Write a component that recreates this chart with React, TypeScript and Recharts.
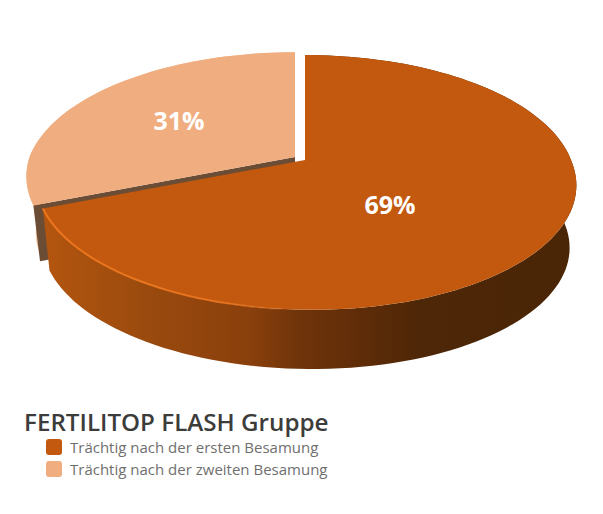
import React from "react";
import { PieChart, Pie } from "recharts";

const categories = ["Trächtig nach der ersten Besamung", "Trächtig nach der zweiten Besamung"];
const shares = [69, 31];
const sliceColors = ["#c2590e", "#f0ae80"];

// back slice has to be painted first, so the pie starts at its far edge
const backShare = shares[1];
const START_ANGLE = 90 + (backShare / 100) * 360;

const pieData = [
  { name: categories[1], value: shares[1], fill: sliceColors[1] },
  { name: categories[0], value: shares[0], fill: sliceColors[0] },
];

// tilted disc: perspective factor, vertical squash of the top face, slight lean of the near half
const PERSPECTIVE = 0.176;
const SQUASH = 0.464;
const LEAN = 6;
const BOTTOM_SCALE = 0.975;

const CX = 305;
const CY = 160;
const RADIUS = 266;

type SliceLook = { dx: number; dy: number; scale: number; depth: number; wallScale: number };
const looks: Record<string, SliceLook> = {
  [categories[0]]: { dx: 0, dy: 0, scale: 1, depth: 63, wallScale: BOTTOM_SCALE },
  [categories[1]]: { dx: -10, dy: -3, scale: 0.998, depth: 57, wallScale: 0.965 },
};

const labelSpots: Record<string, [number, number]> = {
  [categories[0]]: [390, 204],
  [categories[1]]: [179, 120],
};

function project(cx: number, cy: number, r: number, deg: number, k = 1) {
  const a = (deg * Math.PI) / 180;
  const X = Math.cos(a);
  const Y = -Math.sin(a);
  const s = 1 / (1 - PERSPECTIVE * Y);
  return [cx + r * k * X * s + LEAN * Math.max(0, Y * s), cy + r * SQUASH * k * Y * s];
}

function arc(cx: number, cy: number, r: number, from: number, to: number, k = 1) {
  const steps = Math.max(2, Math.ceil(Math.abs(to - from) / 2));
  const pts: number[][] = [];
  for (let i = 0; i <= steps; i++) {
    pts.push(project(cx, cy, r, from + ((to - from) * i) / steps, k));
  }
  return pts;
}

const toPath = (pts: number[][]) =>
  "M" + pts.map((p) => `${p[0].toFixed(1)},${p[1].toFixed(1)}`).join("L") + "Z";
const toLine = (pts: number[][]) =>
  "M" + pts.map((p) => `${p[0].toFixed(1)},${p[1].toFixed(1)}`).join("L");

// side wall as one path of quads, so the silhouette stays straight where top and bottom part
function wallPath(top: number[][], low: number[][]) {
  let d = "";
  for (let i = 0; i < top.length - 1; i++) {
    d += toPath([top[i], top[i + 1], low[i + 1], low[i]]);
  }
  return d;
}

function Slice3D(props: any) {
  const { cx, cy, outerRadius, startAngle, endAngle, fill, name } = props;
  const look = looks[name] ?? looks[categories[0]];
  const x = cx + look.dx;
  const y = cy + look.dy;
  const r = outerRadius * look.scale;
  const isMain = name === categories[0];
  const top = arc(x, y, r, startAngle, endAngle);
  const low = arc(x, y + look.depth, r, startAngle, endAngle, look.wallScale);
  const wall = wallPath(top, low);
  const face = toPath([...top, [x, y]]);

  if (isMain) {
    const rim = arc(x, y, r, endAngle, endAngle + 85);
    return (
      <g>
        <path d={wall} fill="url(#mainWall)" />
        <path d={face} fill={fill} />
        <path d={toLine(rim)} fill="none" stroke="url(#mainRim)" strokeWidth={2} />
      </g>
    );
  }

  // cut face along the near edge of the back slice
  const outer = project(x, y, r, startAngle);
  const outerLow = project(x, y + look.depth, r, startAngle, BOTTOM_SCALE);
  const cut = toPath([[x, y], outer, outerLow, [x, y + look.depth]]);
  return (
    <g>
      <path d={wall} fill="#f6c29c" />
      <path d={cut} fill="#6b4c35" />
      <path d={face} fill={fill} />
    </g>
  );
}

function renderLabel(props: any) {
  const spot = labelSpots[props.name];
  if (!spot) return null;
  return (
    <text
      x={spot[0]}
      y={spot[1]}
      textAnchor="middle"
      dominantBaseline="central"
      fill="#ffffff"
      fontFamily="Open Sans"
      fontWeight={700}
      fontSize={25}
    >
      {`${props.value}%`}
    </text>
  );
}

function LegendBlock() {
  return (
    <div style={{ position: "absolute", left: 24, top: 408, fontFamily: "Open Sans" }}>
      <div style={{ fontSize: 24.2, fontWeight: 600, color: "#3c3c3b", lineHeight: "28px", whiteSpace: "nowrap" }}>
        FERTILITOP FLASH Gruppe
      </div>
      {categories.map((c, i) => (
        <div
          key={c}
          style={{ display: "flex", alignItems: "center", height: 22, marginLeft: 22, whiteSpace: "nowrap" }}
        >
          <span
            style={{ width: 16, height: 16, borderRadius: 3, background: sliceColors[i], marginRight: 8, display: "block" }}
          />
          <span style={{ fontSize: 15, color: "#6f6f6e" }}>{c}</span>
        </div>
      ))}
    </div>
  );
}

export default function App() {
  return (
    <div style={{ position: "absolute", left: 0, top: 0, width: 603, height: 514, background: "#fff" }}>
      <PieChart width={603} height={514} margin={{ top: 0, right: 0, bottom: 0, left: 0 }}>
        <defs>
          <linearGradient id="mainWall" gradientUnits="userSpaceOnUse" x1="40" y1="0" x2="577" y2="0">
            <stop offset="0" stopColor="#b4560f" />
            <stop offset="0.2" stopColor="#9a4a0e" />
            <stop offset="0.39" stopColor="#8a400c" />
            <stop offset="0.48" stopColor="#70340a" />
            <stop offset="0.6" stopColor="#5f2c08" />
            <stop offset="0.71" stopColor="#4d2707" />
            <stop offset="1" stopColor="#4a2506" />
          </linearGradient>
          <linearGradient id="mainRim" gradientUnits="userSpaceOnUse" x1="42" y1="0" x2="300" y2="0">
            <stop offset="0" stopColor="#ee761e" />
            <stop offset="0.7" stopColor="#ee761e" stopOpacity={0.8} />
            <stop offset="1" stopColor="#ee761e" stopOpacity={0} />
          </linearGradient>
        </defs>
        <Pie
          data={pieData}
          dataKey="value"
          nameKey="name"
          cx={CX}
          cy={CY}
          outerRadius={RADIUS}
          startAngle={START_ANGLE}
          endAngle={START_ANGLE - 360}
          stroke="none"
          shape={Slice3D}
          label={renderLabel}
          labelLine={false}
          isAnimationActive={false}
        />
      </PieChart>
      <LegendBlock />
    </div>
  );
}
